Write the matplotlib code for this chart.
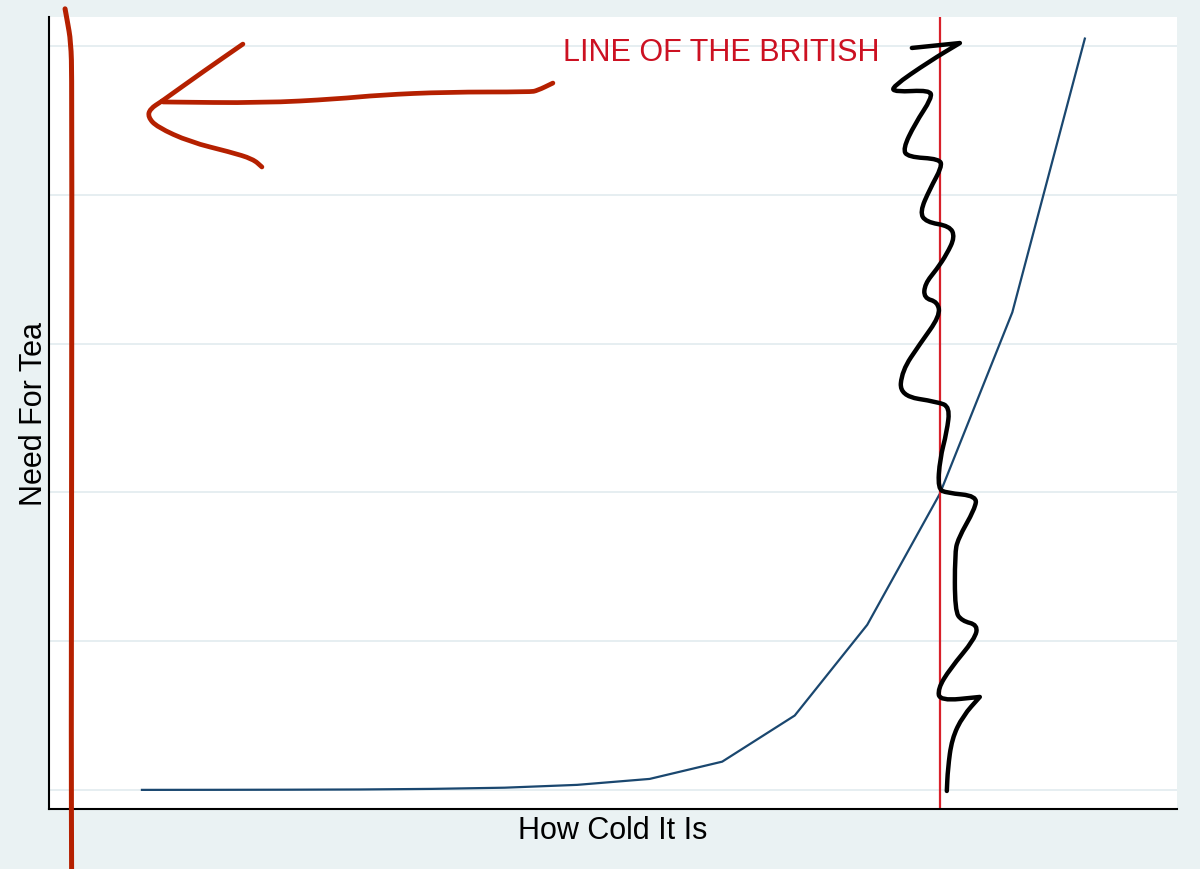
import numpy as np
from matplotlib import pyplot as plt
from matplotlib.path import Path
from matplotlib.patches import PathPatch

# curve: need for tea against how cold it is
cold = list(range(1, 15))
tea = [0.0003, 0.0007, 0.0015, 0.003, 0.007, 0.015, 0.034, 0.074,
       0.19, 0.50, 1.11, 1.99, 3.21, 5.05]

british_x = 12
british_label = 'LINE OF THE BRITISH'
label_x, label_y = 6.80, 4.906

# hand drawn marks (data units)
red_stroke_x = [-0.06, -0.03, 0.02, 0.035, 0.03, 0.025, 0.03]
red_stroke_y = [5.25, 5.17, 5.03, 4.78, 2.0, 0.3, -0.53]

barb_up_x = [2.392, 1.85, 1.276]
barb_up_y = [5.013, 4.83, 4.630]
shaft_x = [6.666, 6.45, 6.349, 5.205, 4.281, 3.688, 2.668, 1.29]
shaft_y = [4.751, 4.70, 4.691, 4.691, 4.671, 4.644, 4.617, 4.624]
barb_low_x = [1.276, 1.110, 1.083, 1.207, 1.662, 2.213, 2.530, 2.654]
barb_low_y = [4.630, 4.577, 4.523, 4.456, 4.355, 4.288, 4.241, 4.187]

# black squiggle; repeated points are sharp corners of the stroke
squig_x = [11.615, 12.277, 12.277, 11.863, 11.339, 11.381, 11.863, 11.891,
           11.656, 11.491, 11.560, 12.001, 12.028, 11.863, 11.725, 11.808,
           12.139, 12.208, 12.097, 11.960, 11.794, 11.780, 11.973, 12.001,
           11.725, 11.477, 11.449, 11.973, 12.139, 12.097, 12.001, 11.973,
           12.097, 12.511, 12.483, 12.249, 12.208, 12.208, 12.304, 12.525,
           12.483, 12.139, 11.973, 12.001, 12.552, 12.552, 12.318, 12.166,
           12.111, 12.097]
squig_y = [4.987, 5.020, 5.020, 4.899, 4.724, 4.691, 4.704, 4.651,
           4.476, 4.308, 4.254, 4.241, 4.187, 4.039, 3.884, 3.817,
           3.790, 3.716, 3.602, 3.501, 3.401, 3.306, 3.280, 3.185,
           2.997, 2.816, 2.648, 2.608, 2.574, 2.406, 2.224, 2.023,
           1.996, 1.976, 1.888, 1.687, 1.586, 1.203, 1.136, 1.109,
           1.015, 0.813, 0.679, 0.598, 0.625, 0.625, 0.497, 0.343,
           0.141, -0.007]

BG = '#eaf2f3'
NAVY = '#1a476f'
SCRIBBLE_RED = '#b52000'


def smooth_path(xs, ys):
    # quadratic bezier through midpoints, read points act as control points
    pts = np.column_stack([xs, ys])
    verts = [pts[0], (pts[0] + pts[1]) / 2]
    codes = [Path.MOVETO, Path.LINETO]
    for i in range(1, len(pts) - 1):
        verts += [pts[i], (pts[i] + pts[i + 1]) / 2]
        codes += [Path.CURVE3, Path.CURVE3]
    verts.append(pts[-1])
    codes.append(Path.LINETO)
    return Path(verts, codes)


def scribble(ax, xs, ys, color, lw, clip=True):
    patch = PathPatch(smooth_path(xs, ys), facecolor='none', edgecolor=color,
                      lw=lw, capstyle='round', joinstyle='round', zorder=6)
    ax.add_patch(patch)
    patch.set_clip_on(clip)


def main():
    plt.rcParams['font.family'] = ['Liberation Sans', 'DejaVu Sans']
    fig = plt.figure(figsize=(12, 8.7), dpi=100, facecolor=BG)
    ax = fig.add_axes([0.0408, 0.0690, 0.9400, 0.9103])
    ax.set_facecolor('white')

    ax.set_xlim(-0.282, 15.27)
    ax.set_ylim(-0.128, 5.195)
    ax.set_yticks(range(0, 6))
    ax.set_xticks([])
    ax.tick_params(axis='y', length=0, labelleft=False)
    ax.grid(axis='y', color='#e6eef1', lw=1.4)
    ax.set_axisbelow(True)
    for side in ['top', 'right']:
        ax.spines[side].set_visible(False)
    for side in ['left', 'bottom']:
        ax.spines[side].set_color('black')
        ax.spines[side].set_linewidth(1.5)

    ax.plot(cold, tea, color=NAVY, lw=1.6)
    ax.axvline(british_x, color='#d8202a', lw=1.6)
    ax.text(label_x, label_y, british_label, color='#cc1122', fontsize=22,
            ha='left', va='baseline')

    ax.set_xlabel('How Cold It Is', fontsize=22, labelpad=4)
    ax.set_ylabel('Need For Tea', fontsize=22, labelpad=0)

    # scribbles on top
    scribble(ax, red_stroke_x, red_stroke_y, SCRIBBLE_RED, 3.6, clip=False)
    scribble(ax, barb_up_x, barb_up_y, SCRIBBLE_RED, 3.4)
    scribble(ax, shaft_x, shaft_y, SCRIBBLE_RED, 3.4)
    scribble(ax, barb_low_x, barb_low_y, SCRIBBLE_RED, 3.4)
    scribble(ax, squig_x, squig_y, 'black', 3.2)

    fig.savefig('out.png', dpi=100, facecolor=BG)


if __name__ == '__main__':
    main()
